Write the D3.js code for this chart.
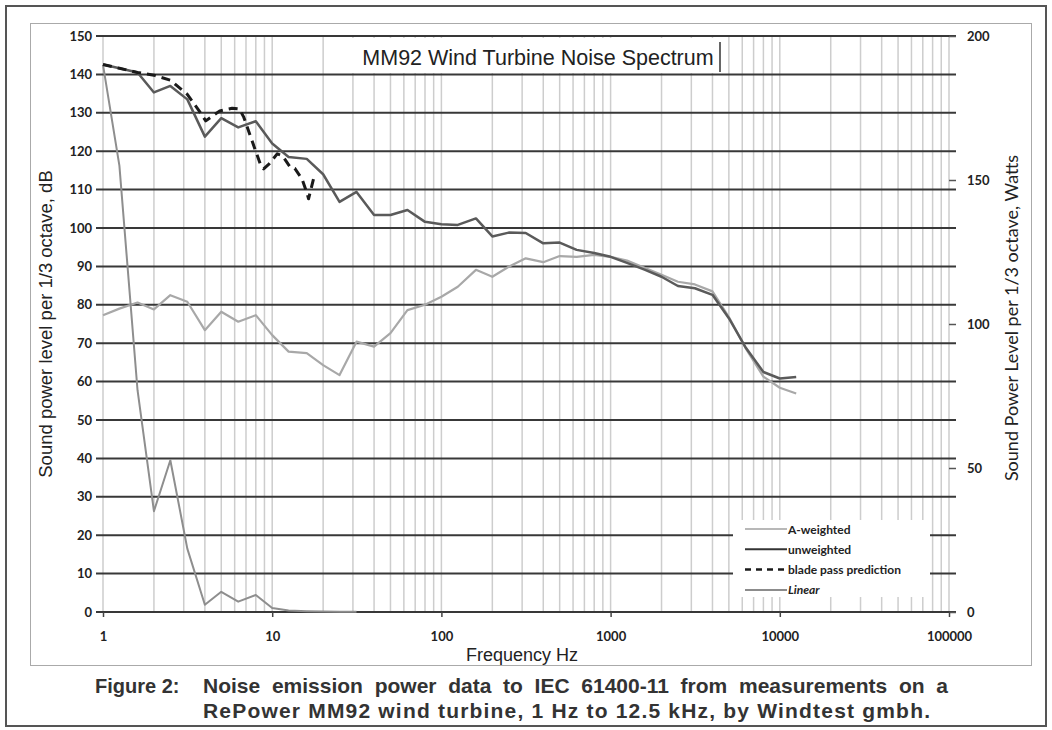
<!DOCTYPE html>
<html>
<head>
<meta charset="utf-8">
<script src="https://cdn.jsdelivr.net/npm/d3@7"></script>
<style>
  body { margin: 0; background: #fff; }
  svg { display: block; }
  .tick text { font-family: Lato, 'Open Sans', sans-serif; font-weight: 700; font-size: 13px; fill: #222; }
</style>
</head>
<body>
<div id="chart"></div>
<script>
// 1/3 octave band centre frequencies, Hz
const freqs = [1, 1.25, 1.6, 2, 2.5, 3.15, 4, 5, 6.3, 8, 10, 12.5, 16, 20, 25, 31.5, 40, 50, 63, 80,
  100, 125, 160, 200, 250, 315, 400, 500, 630, 800, 1000, 1250, 1600, 2000, 2500, 3150, 4000, 5000,
  6300, 8000, 10000, 12500];

// sound power level, dB (left axis)
const unweighted = [142.6, 141.6, 140.5, 135.3, 137.0, 133.5, 123.8, 128.6, 126.2, 127.8, 122.0, 118.5,
  118.0, 114.0, 106.8, 109.4, 103.4, 103.4, 104.7, 101.6, 101.0, 100.8, 102.5, 97.8, 98.8, 98.7, 96.0,
  96.2, 94.3, 93.5, 92.5, 90.9, 89.1, 87.3, 84.9, 84.3, 82.6, 76.5, 68.8, 62.5, 60.8, 61.2];
const aWeighted = [77.3, 79.0, 80.6, 78.8, 82.5, 80.8, 73.4, 78.2, 75.6, 77.3, 72.1, 67.8,
  67.4, 64.3, 61.7, 70.4, 69.1, 72.6, 78.6, 80.0, 82.1, 84.7, 89.1, 87.3, 89.9, 92.1, 91.1,
  92.7, 92.5, 93.0, 92.5, 91.5, 89.6, 87.8, 86.0, 85.3, 83.5, 76.8, 68.6, 61.3, 58.4, 56.9];

// blade pass prediction has its own frequency points
const bladeFreqs = [1, 1.25, 1.6, 2, 2.5, 3.15, 3.7, 4.05, 4.9, 5.8, 6.4, 6.8, 7.6, 8.5, 8.9, 9.6,
  10.7, 11.5, 12.8, 13.6, 15, 16.1, 16.4, 17.6];
const bladeDb = [142.6, 141.6, 140.5, 139.8, 138.5, 134.8, 130.5, 127.9, 130.5, 131.2, 131.0, 128.8,
  122.7, 116.7, 115.4, 116.7, 119.3, 118.8, 115.8, 115.5, 112.8, 108.9, 107.6, 113.0];

// linear power, Watts (right axis), paired with the first freqs; after 31.5 Hz it lies on zero
const linearWatts = [190, 155, 77, 35, 52.7, 22, 2.5, 7, 3.6, 5.9, 1.4, 0.5, 0.3, 0.15, 0.1, 0.05];

// tick labels
const dbTicks = [0, 10, 20, 30, 40, 50, 60, 70, 80, 90, 100, 110, 120, 130, 140, 150];
const wattTicks = [0, 50, 100, 150, 200];
const freqTicks = [1, 10, 100, 1000, 10000, 100000];

const legendLabels = ['A-weighted', 'unweighted', 'blade pass prediction', 'Linear'];
const titleText = 'MM92 Wind Turbine Noise Spectrum';
const captionLine1 = 'Noise emission power data to IEC 61400-11 from measurements on a';
const captionLine2 = 'RePower MM92 wind turbine, 1 Hz to 12.5 kHz, by Windtest gmbh.';

const W = 1052, H = 730;
const margin = { top: 36, right: 103, bottom: 118, left: 103 };
const width = W - margin.left - margin.right;
const height = H - margin.top - margin.bottom;

const svg = d3.select('#chart').append('svg').attr('width', W).attr('height', H);

// page frame and chart frame
svg.append('rect').attr('x', 6).attr('y', 6).attr('width', 1040).attr('height', 720)
  .attr('fill', 'none').attr('stroke', '#555').attr('stroke-width', 2);
svg.append('rect').attr('x', 30.5).attr('y', 23.5).attr('width', 1001).attr('height', 642)
  .attr('fill', 'none').attr('stroke', '#aaa').attr('stroke-width', 1);

const g = svg.append('g').attr('transform', `translate(${margin.left},${margin.top})`);

const x = d3.scaleLog().domain([1, 100000]).range([0, width]);
const y = d3.scaleLinear().domain([0, 150]).range([height, 0]);
const y2 = d3.scaleLinear().domain([0, 200]).range([height, 0]);

// vertical log grid
g.append('g').selectAll('line').data(x.ticks()).join('line')
  .attr('x1', d => x(d)).attr('x2', d => x(d))
  .attr('y1', 0).attr('y2', height)
  .attr('stroke', '#cdcdcd').attr('stroke-width', 1.5);

// horizontal grid, reaching past the plot as ticks
g.append('g').selectAll('line').data(dbTicks).join('line')
  .attr('x1', -7).attr('x2', width + 7)
  .attr('y1', d => y(d)).attr('y2', d => y(d))
  .attr('stroke', '#383838').attr('stroke-width', 2);

// title box
svg.append('rect').attr('x', 352).attr('y', 38).attr('width', 368).attr('height', 35).attr('fill', '#fff');
svg.append('line').attr('x1', 720).attr('x2', 720).attr('y1', 42).attr('y2', 72)
  .attr('stroke', '#333').attr('stroke-width', 1.5);
svg.append('text').attr('x', 538).attr('y', 65).attr('text-anchor', 'middle')
  .style('font-family', "'Liberation Sans', Arial, sans-serif").style('font-size', '21.5px')
  .attr('fill', '#222').text(titleText);

// series
const line = d3.line().x(d => x(d[0])).y(d => d[1]);

const series = [
  { key: 'A-weighted', pts: freqs.map((f, i) => [f, y(aWeighted[i])]), color: '#a8a8a8', w: 2.2, dash: null },
  { key: 'Linear', pts: linearWatts.map((v, i) => [freqs[i], y2(v)]), color: '#8e8e8e', w: 2, dash: null },
  { key: 'unweighted', pts: freqs.map((f, i) => [f, y(unweighted[i])]), color: '#5a5a5a', w: 2.5, dash: null },
  { key: 'blade pass prediction', pts: bladeFreqs.map((f, i) => [f, y(bladeDb[i])]), color: '#1a1a1a', w: 3, dash: '9,6' },
];

g.append('g').selectAll('path').data(series).join('path')
  .attr('d', d => line(d.pts))
  .attr('fill', 'none')
  .attr('stroke', d => d.color)
  .attr('stroke-width', d => d.w)
  .attr('stroke-dasharray', d => d.dash)
  .attr('stroke-linejoin', 'round');

// legend
const legendStyle = {
  'A-weighted': { color: '#a0a0a0', w: 1.5, dash: null },
  'unweighted': { color: '#333', w: 2, dash: null },
  'blade pass prediction': { color: '#1a1a1a', w: 2.5, dash: '6,5' },
  'Linear': { color: '#666', w: 1.5, dash: null },
};
const legend = svg.append('g').attr('transform', 'translate(733,520)');
legend.append('rect').attr('width', 197).attr('height', 77).attr('fill', '#fff');
const items = legend.selectAll('g').data(legendLabels).join('g')
  .attr('transform', (d, i) => `translate(0,${9 + i * 20.3})`);
items.append('line').attr('x1', 12).attr('x2', 54).attr('y1', 0).attr('y2', 0)
  .attr('stroke', d => legendStyle[d].color)
  .attr('stroke-width', d => legendStyle[d].w)
  .attr('stroke-dasharray', d => legendStyle[d].dash);
items.append('text').attr('x', 55).attr('y', 4.5)
  .style('font-family', "Lato, 'Open Sans', sans-serif").style('font-size', '12px')
  .style('font-weight', 700).style('font-style', d => d === 'Linear' ? 'italic' : 'normal')
  .attr('fill', '#222').text(d => d);

// axes
const yAxis = g.append('g').call(d3.axisLeft(y).tickValues(dbTicks).tickSize(0).tickPadding(11));
yAxis.select('.domain').remove();

const y2Axis = g.append('g').attr('transform', `translate(${width},0)`)
  .call(d3.axisRight(y2).tickValues(wattTicks).tickSize(7).tickPadding(11));
y2Axis.select('.domain').remove();
y2Axis.selectAll('.tick line').attr('stroke', '#555').attr('stroke-width', 1.5);

const xAxis = g.append('g').attr('transform', `translate(0,${height})`)
  .call(d3.axisBottom(x).tickValues(freqTicks).tickFormat(d3.format('d')).tickSize(5).tickPadding(15));
xAxis.select('.domain').remove();
xAxis.selectAll('.tick line').attr('stroke', '#444').attr('stroke-width', 1.5);

// axis titles
svg.append('text').attr('transform', 'translate(52,324) rotate(-90)').attr('text-anchor', 'middle')
  .style('font-family', "'Liberation Sans', Arial, sans-serif").style('font-size', '18.5px')
  .attr('fill', '#222').text('Sound power level per 1/3 octave, dB');
svg.append('text').attr('transform', 'translate(1018,318) rotate(-90)').attr('text-anchor', 'middle')
  .style('font-family', "Lato, 'Open Sans', sans-serif").style('font-size', '18px')
  .attr('fill', '#222').text('Sound Power Level per 1/3 octave, Watts');
svg.append('text').attr('x', 522).attr('y', 661).attr('text-anchor', 'middle')
  .style('font-family', "'Liberation Sans', Arial, sans-serif").style('font-size', '18px')
  .attr('fill', '#222').text('Frequency Hz');

// caption
const capFont = "'Liberation Sans', Arial, sans-serif";
svg.append('text').attr('x', 95).attr('y', 693)
  .style('font-family', capFont).style('font-size', '20px').style('font-weight', 700)
  .attr('fill', '#333').text('Figure 2:');
const cap1 = svg.append('text').attr('x', 203).attr('y', 693)
  .style('font-family', capFont).style('font-size', '21px').style('font-weight', 700)
  .attr('fill', '#333').text(captionLine1);
// justify the first line out to the right margin
const natural = cap1.node().getComputedTextLength();
const gaps = captionLine1.split(' ').length - 1;
cap1.style('word-spacing', ((948 - 203 - natural) / gaps) + 'px');
const cap2 = svg.append('text').attr('x', 203).attr('y', 718)
  .style('font-family', capFont).style('font-size', '21px').style('font-weight', 700)
  .attr('fill', '#333').text(captionLine2);
// the scanned second line runs a little wider than the font does
const natural2 = cap2.node().getComputedTextLength();
cap2.style('letter-spacing', ((930 - 203 - natural2) / (captionLine2.length - 1)) + 'px');
</script>
</body>
</html>
